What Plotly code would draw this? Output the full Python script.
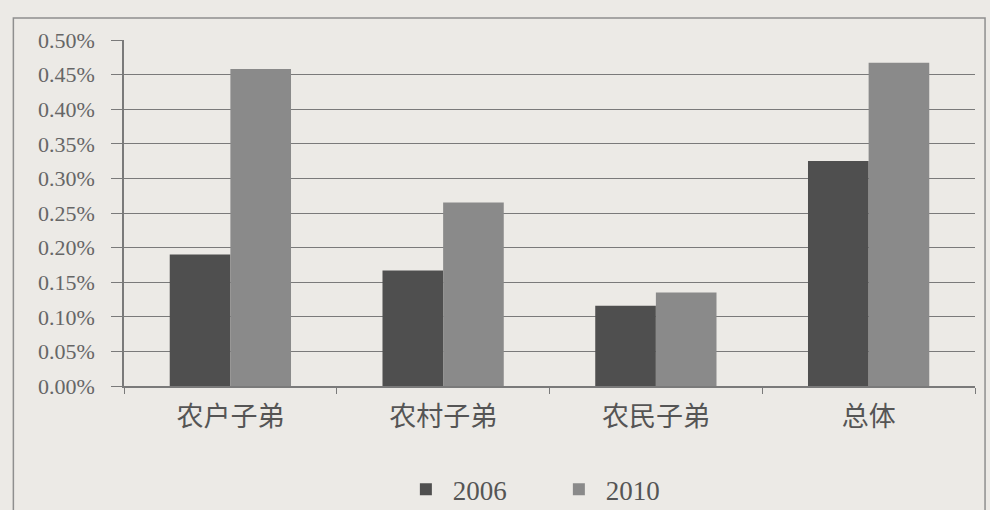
import plotly.graph_objects as go

categories = ["农户子弟", "农村子弟", "农民子弟", "总体"]
values_2006 = [0.0019, 0.00167, 0.00116, 0.00325]
values_2010 = [0.00458, 0.00265, 0.00135, 0.00467]
series_names = ["2006", "2010"]

fig = go.Figure()
fig.add_trace(go.Bar(x=categories, y=values_2006, name=series_names[0],
                     marker=dict(color="#4f4f4f", line=dict(width=0))))
fig.add_trace(go.Bar(x=categories, y=values_2010, name=series_names[1],
                     marker=dict(color="#8a8a8a", line=dict(width=0))))

fig.update_layout(
    width=990, height=510,
    margin=dict(l=124, r=15, t=40, b=124, autoexpand=False),
    paper_bgcolor="#eceae6",
    plot_bgcolor="#eceae6",
    barmode="group",
    bargap=0.43,
    bargroupgap=0,
    font=dict(family="Liberation Serif, Noto Sans CJK SC", color="#555555"),
    legend=dict(orientation="h", x=0.323, xanchor="left", y=-0.30, yanchor="middle",
                font=dict(size=27, family="Liberation Serif"), itemwidth=44,
                entrywidth=94, entrywidthmode="pixels",
                bgcolor="rgba(0,0,0,0)"),
    shapes=[dict(type="rect", xref="paper", yref="paper",
                 x0=-0.130, x1=1.0118, y0=-0.45, y1=1.0636,
                 line=dict(color="#8f8f8f", width=1.5), layer="below")],
)
fig.update_xaxes(
    showline=True, linecolor="#7a7a7a", linewidth=1.5,
    ticks="outside", tickson="boundaries", ticklen=6, tickcolor="#7a7a7a",
    tickfont=dict(size=27, family="Noto Sans CJK SC", color="#555555"),
    ticklabelstandoff=6,
    showgrid=False,
)
fig.update_yaxes(
    range=[0, 0.005], dtick=0.0005, tickformat=".2%",
    showline=True, linecolor="#7a7a7a", linewidth=1.5,
    ticks="outside", ticklen=11, tickcolor="#7a7a7a",
    showgrid=True, gridcolor="#7a7a7a", gridwidth=1.2,
    zeroline=False,
    ticklabelstandoff=12,
    tickfont=dict(size=22, family="Liberation Serif", color="#666666"),
)

fig.write_html(
    "out.html",
    config={"displayModeBar": False},
    post_script="document.body.style.margin='0';document.body.style.background='#eceae6';",
)
